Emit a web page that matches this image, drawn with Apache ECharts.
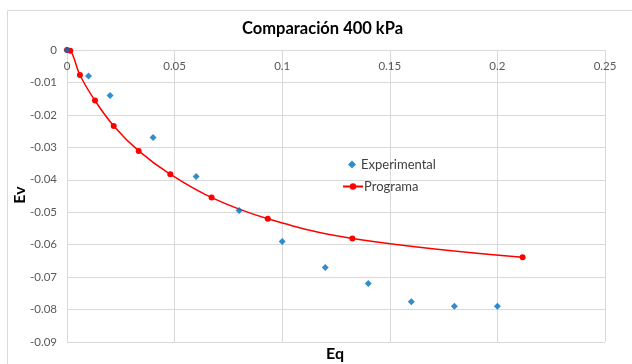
<!DOCTYPE html>
<html><head><meta charset="utf-8">
<script src="https://cdn.jsdelivr.net/npm/echarts@6/dist/echarts.min.js"></script>
<style>html,body{margin:0;padding:0;background:#fff}#c{width:632px;height:364px}</style>
</head><body><div id="c"></div>
<script>
const title = 'Comparación 400 kPa';
const xName = 'Eq';
const yName = 'Ev';
const xTicks = [0, 0.05, 0.1, 0.15, 0.2, 0.25];
const yTicks = [0, -0.01, -0.02, -0.03, -0.04, -0.05, -0.06, -0.07, -0.08, -0.09];
const expEq = [0, 0.01, 0.02, 0.04, 0.06, 0.08, 0.1, 0.12, 0.14, 0.16, 0.18, 0.2];
const expEv = [0, -0.008, -0.014, -0.027, -0.039, -0.0495, -0.059, -0.067, -0.072, -0.0776, -0.079, -0.079];
const progEq = [0, 0.0015, 0.006, 0.013, 0.0217, 0.0333, 0.048, 0.0672, 0.0933, 0.1326, 0.2117];
const progEv = [0, -0.0002, -0.0077, -0.0156, -0.0234, -0.0311, -0.0383, -0.0455, -0.052, -0.0581, -0.0639];

const font = 'Lato, "Open Sans", sans-serif';
const chart = echarts.init(document.getElementById('c'), null, {renderer: 'canvas'});
chart.setOption({
  animation: false,
  backgroundColor: '#fff',
  graphic: [
    {type: 'rect', left: 5, top: 8, shape: {width: 700, height: 400}, style: {fill: 'none', stroke: '#d9d9d9', lineWidth: 1}, silent: true},
    {type: 'text', x: 20, y: 195, rotation: Math.PI / 2, silent: true,
     style: {text: yName, fontFamily: font, fontSize: 16, fontWeight: 'bold', fill: '#000', align: 'center', verticalAlign: 'middle'}}
  ],
  title: [
    {text: title, left: 237, top: 15, textStyle: {fontFamily: font, fontSize: 16.5, fontWeight: 'bold', color: '#000'}},
    {text: xName, left: 321, top: 341, textStyle: {fontFamily: font, fontSize: 16, fontWeight: 'bold', color: '#000'}}
  ],
  legend: [
    {orient: 'vertical', left: 343, top: 153, itemWidth: 8, itemHeight: 8,
     textStyle: {fontFamily: font, fontSize: 13, color: '#404040'},
     data: [{name: 'Experimental', icon: 'diamond'}]},
    {orient: 'vertical', left: 337, top: 175, itemWidth: 20, itemHeight: 8,
     textStyle: {fontFamily: font, fontSize: 13, color: '#404040', padding: [0, 0, 0, -4]},
     data: [{name: 'Programa'}]}
  ],
  grid: {left: 67, top: 50, right: 27, bottom: 22, containLabel: false, outerBoundsMode: 'none'},
  xAxis: {
    type: 'value', position: 'top', min: xTicks[0], max: xTicks[xTicks.length - 1], interval: xTicks[1] - xTicks[0],
    axisLine: {onZero: false, lineStyle: {color: '#d9d9d9'}},
    axisTick: {show: false},
    axisLabel: {inside: true, fontFamily: font, fontSize: 11.5, color: '#595959', margin: 10},
    splitLine: {lineStyle: {color: '#d9d9d9'}}
  },
  yAxis: {
    type: 'value', min: yTicks[yTicks.length - 1], max: yTicks[0], interval: 0.01,
    axisLine: {show: true, onZero: false, lineStyle: {color: '#d9d9d9'}},
    axisTick: {show: false},
    axisLabel: {fontFamily: font, fontSize: 11.5, color: '#595959', margin: 10},
    splitLine: {lineStyle: {color: '#d9d9d9'}}
  },
  series: [
    {name: 'Experimental', type: 'scatter', symbol: 'diamond', symbolSize: 7, z: 4,
     itemStyle: {color: '#0070c0'}, data: expEq.map((x, i) => [x, expEv[i]])},
    {name: 'Programa', type: 'line', smooth: 0.4, symbol: 'circle', symbolSize: 6, showSymbol: true,
     lineStyle: {color: '#ff0000', width: 1.5}, itemStyle: {color: '#ff0000'},
     data: progEq.map((x, i) => [x, progEv[i]])}
  ]
});
</script></body></html>
